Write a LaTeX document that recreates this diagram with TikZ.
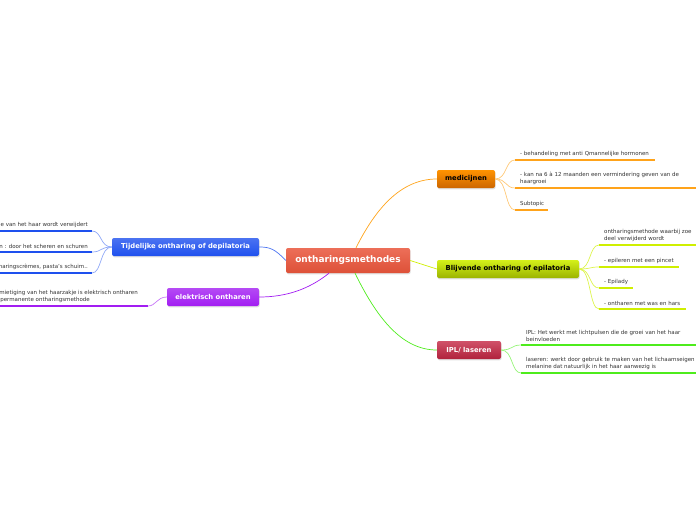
\documentclass[tikz,border=0pt]{standalone}
\usepackage{fontspec}
\setmainfont{DejaVu Sans}
\usetikzlibrary{shadows}

\definecolor{rootred}{HTML}{E9553B}
\definecolor{medorange}{HTML}{FFA31A}
\definecolor{epilime}{HTML}{CFEF00}
\definecolor{iplgreen}{HTML}{4EEC1C}
\definecolor{iplrose}{HTML}{C42643}
\definecolor{depblue}{HTML}{1E50EE}
\definecolor{elecpurple}{HTML}{A21DF2}
\definecolor{subgray}{HTML}{333333}

\tikzset{
  topic/.style={rounded corners=2pt, minimum height=18pt, inner sep=0pt,
    font=\fontsize{6.8}{7}\selectfont\bfseries,
    drop shadow={opacity=0.25, shadow xshift=0.6pt, shadow yshift=-1.3pt}},
  subtxt/.style={inner sep=0pt, align=left, text=subgray,
    font=\fontsize{5.5}{6.8}\selectfont},
  uline/.style={line width=2.6pt},
  branch/.style={line width=0.7pt},
}

\begin{document}
\begin{tikzpicture}[x=1pt,y=-1pt]
\useasboundingbox (0,0) rectangle (696,520);
\clip (0,0) rectangle (696,520);

% main topics
\node[topic, minimum width=124pt, minimum height=25pt, top color=rootred!85!white, bottom color=rootred!95!black,
  text=white, font=\fontsize{9}{10}\selectfont\bfseries] (root) at (348,260.5) {ontharingsmethodes};
\node[topic, minimum width=58pt, top color=orange!85!yellow, bottom color=orange!80!black] (med) at (466,179) {medicijnen};
\node[topic, minimum width=142pt, top color=epilime!90!white, bottom color=epilime!75!black] (epi) at (508,269) {Blijvende ontharing of epilatoria};
\node[topic, minimum width=64pt, top color=iplrose!80!white, bottom color=iplrose!90!black, text=white] (ipl) at (469,350) {IPL/ laseren};
\node[topic, minimum width=147pt, top color=depblue!80!white, bottom color=depblue, text=white] (dep) at (185.5,247) {Tijdelijke ontharing of depilatoria};
\node[topic, minimum width=92pt, top color=elecpurple!80!white, bottom color=elecpurple, text=white] (elec) at (213,297) {elektrisch ontharen};

% branches from the root
\draw[branch, medorange] ([xshift=8pt]root.north) .. controls (375,210) and (400,179) .. (med.west);
\draw[branch, epilime] (root.east) -- (epi.west);
\draw[branch, iplgreen] ([xshift=7pt]root.south) .. controls (375,314) and (400,350) .. (ipl.west);
\draw[branch, depblue!80] (root.west) .. controls (275,249) and (270,247) .. (dep.east);
\draw[branch, elecpurple] ([xshift=-19pt]root.south) .. controls (308,290) and (285,297) .. (elec.east);

% medicijnen
\coordinate (m1) at (515,160);
\coordinate (m2) at (515,188);
\coordinate (m3) at (515,210);
\draw[uline, medorange] (m1) -- (655,160);
\draw[uline, medorange] (m2) -- (697,188);
\draw[uline, medorange] (m3) -- (548,210);
\node[subtxt, anchor=south west] (mt1) at (520,157) {- behandeling met anti Qmannelijke hormonen};
\node[subtxt, anchor=south west] (mt2) at (520,185) {- kan na 6 à 12 maanden een vermindering geven van de\\haargroei};
\node[subtxt, anchor=south west] (mt3) at (520,207) {Subtopic};
\foreach \c in {m1,m2,m3}
  \draw[branch, medorange!60] (med.east) .. controls +(12,0) and +(-10,0) .. (\c);

% blijvende ontharing
\coordinate (e1) at (599,245);
\coordinate (e2) at (599,267);
\coordinate (e3) at (599,288);
\coordinate (e4) at (599,309);
\draw[uline, epilime] (e1) -- (697,245);
\draw[uline, epilime] (e2) -- (679,267);
\draw[uline, epilime] (e3) -- (633,288);
\draw[uline, epilime] (e4) -- (686,309);
\node[subtxt, anchor=south west] (et1) at (604,242) {ontharingsmethode waarbij zoe\\deel verwijderd wordt};
\node[subtxt, anchor=south west] (et2) at (604,264) {- epileren met een pincet};
\node[subtxt, anchor=south west] (et3) at (604,285) {- Epilady};
\node[subtxt, anchor=south west] (et4) at (604,306) {- ontharen met was en hars};
\foreach \c in {e1,e2,e3,e4}
  \draw[branch, epilime!70] (epi.east) .. controls +(12,0) and +(-10,0) .. (\c);

% IPL/ laseren
\coordinate (i1) at (521,345);
\coordinate (i2) at (521,373);
\draw[uline, iplgreen] (i1) -- (697,345);
\draw[uline, iplgreen] (i2) -- (697,373);
\node[subtxt, anchor=south west] (it1) at (526,342) {IPL: Het werkt met lichtpulsen die de groei van het haar\\beinvloeden};
\node[subtxt, anchor=south west] (it2) at (526,370) {laseren: werkt door gebruik te maken van het lichaamseigen\\melanine dat natuurlijk in het haar aanwezig is};
\foreach \c in {i1,i2}
  \draw[branch, iplgreen!60] (ipl.east) .. controls +(12,0) and +(-10,0) .. (\c);

% tijdelijke ontharing
\coordinate (d1) at (92,231);
\coordinate (d2) at (92,252);
\coordinate (d3) at (92,273);
\draw[uline, depblue] (d1) -- (-1,231);
\draw[uline, depblue] (d2) -- (-1,252);
\draw[uline, depblue] (d3) -- (-1,273);
\node[subtxt, anchor=south east] (dt1) at (88,228) {e van het haar wordt verwijdert};
\node[subtxt, anchor=south east] (dt2) at (88,249) {n : door het scheren en schuren};
\node[subtxt, anchor=south east] (dt3) at (88,270) {haringscrèmes, pasta's schuim..};
\foreach \c in {d1,d2,d3}
  \draw[branch, depblue!50] (dep.west) .. controls +(-12,0) and +(10,0) .. (\c);

% elektrisch ontharen
\coordinate (p1) at (148,306);
\draw[uline, elecpurple] (p1) -- (-1,306);
\node[subtxt, anchor=base east] (pt1) at (138,294.5) {mietiging van het haarzakje is elektrisch ontharen};
\node[subtxt, anchor=base east] (pt2) at (90,301) {permanente ontharingsmethode};
\draw[branch, elecpurple!60] (elec.west) .. controls +(-10,0) and +(8,0) .. (p1);
\end{tikzpicture}
\end{document}
